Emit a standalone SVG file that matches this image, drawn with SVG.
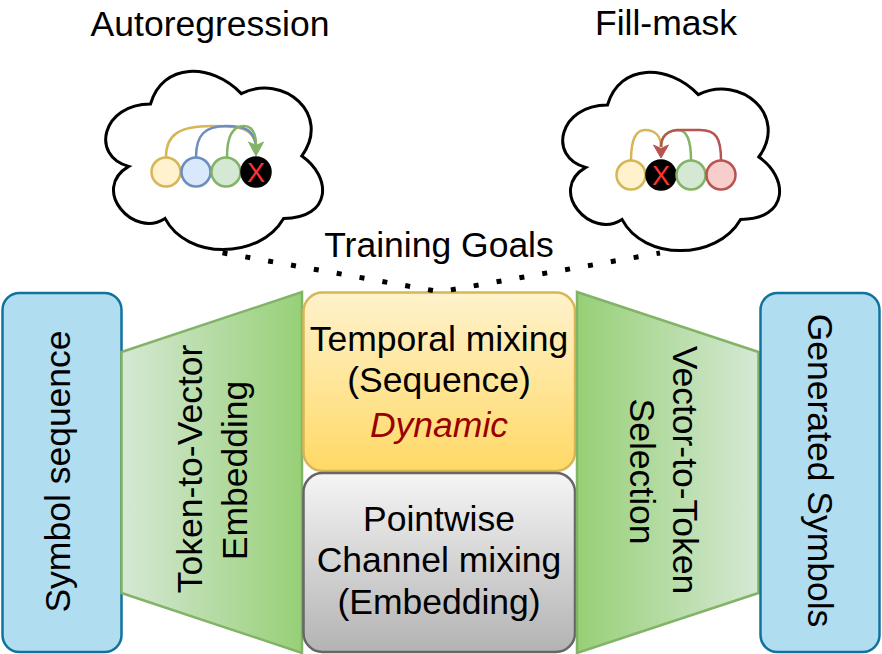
<svg xmlns="http://www.w3.org/2000/svg" width="882" height="654" viewBox="0 0 882 654">
<style>
text{font-family:"Liberation Sans",Arial,sans-serif;font-size:35.5px;fill:#000;text-anchor:middle}
.blue{fill:#b1ddf0;stroke:#10739e;stroke-width:2.5}
.trap{stroke:#82b366;stroke-width:2.5}
.cloud{fill:#fff;stroke:#000;stroke-width:3}
.arc{fill:none;stroke-width:2.5}
.c{stroke-width:2.5}
.x{font-size:27px;fill:#ff3333}
.dot{fill:none;stroke:#000;stroke-width:5;stroke-dasharray:5 18.2}
</style>
<defs>
<linearGradient id="gL" x1="0" y1="0" x2="1" y2="0"><stop offset="0" stop-color="#d5e8d4"/><stop offset="1" stop-color="#97d077"/></linearGradient>
<linearGradient id="gR" x1="0" y1="0" x2="1" y2="0"><stop offset="0" stop-color="#97d077"/><stop offset="1" stop-color="#d5e8d4"/></linearGradient>
<linearGradient id="gY" x1="0" y1="0" x2="0" y2="1"><stop offset="0" stop-color="#fff2cc"/><stop offset="1" stop-color="#ffd966"/></linearGradient>
<linearGradient id="gG" x1="0" y1="0" x2="0" y2="1"><stop offset="0" stop-color="#f5f5f5"/><stop offset="1" stop-color="#b3b3b3"/></linearGradient>
<path id="cloudShape" d="M60.5,52 C12.1,52 0,104 38.7,114.4 C0,137.3 43.6,187.2 75,166.4 C96.8,208 169.4,208 193.6,166.4 C242,166.4 242,124.8 211.8,104 C242,62.4 193.6,20.8 151.3,41.6 C121,10.4 72.6,10.4 60.5,52 Z"/>
</defs>

<g id="titles">
<text x="210" y="36">Autoregression</text>
<text x="666" y="35">Fill-mask</text>
</g>

<g id="symbol-sequence">
<rect class="blue" x="2.5" y="293" width="119" height="359" rx="17"/>
<text transform="translate(70,471.5) rotate(-90)">Symbol sequence</text>
</g>

<g id="token-to-vector">
<polygon class="trap" fill="url(#gL)" points="121.5,352 302,292 302,653 121.5,593"/>
<text transform="translate(201.7,469) rotate(-90)">Token-to-Vector</text>
<text transform="translate(246.7,470.5) rotate(-90)">Embedding</text>
</g>

<g id="temporal-mixing">
<rect x="303.5" y="292.5" width="271.5" height="178.5" rx="19" fill="url(#gY)" stroke="#d6b656" stroke-width="2.5"/>
<text x="439" y="351">Temporal mixing</text>
<text x="439" y="391.5">(Sequence)</text>
<text x="439" y="437" font-style="italic" style="fill:#990000">Dynamic</text>
</g>

<g id="channel-mixing">
<rect x="303.5" y="473" width="271.5" height="179" rx="19" fill="url(#gG)" stroke="#666666" stroke-width="2.5"/>
<text x="439" y="531">Pointwise</text>
<text x="439" y="572">Channel mixing</text>
<text x="439" y="614">(Embedding)</text>
</g>

<g id="vector-to-token">
<polygon class="trap" fill="url(#gR)" points="577,292 758.5,352 758.5,593 577,653"/>
<text transform="translate(673.3,470) rotate(90)">Vector-to-Token</text>
<text transform="translate(630,471.5) rotate(90)">Selection</text>
</g>

<g id="generated-symbols">
<rect class="blue" x="760.5" y="293" width="119" height="359" rx="17"/>
<text transform="translate(808,470.5) rotate(90)">Generated Symbols</text>
</g>

<g id="connectors">
<path class="dot" d="M222.5,252.8 L440,291.8 L660,253"/>
</g>

<g id="training-goals">
<text x="439" y="256.7">Training Goals</text>
</g>

<g id="autoregression-cloud">
<use href="#cloudShape" class="cloud" transform="translate(90,52)"/>
<path class="arc" stroke="#d6b656" d="M166,157 C166,134 180,126 212,126 C240,126 254,128 256,146"/>
<path class="arc" stroke="#6c8ebf" d="M196,157 C196,135 205,126 226,126 C244,126 254,129 256,146"/>
<path class="arc" stroke="#82b366" d="M227,157 C227,137 232,126 244,126 C252,126 256,133 256,146"/>
<polygon fill="#82b366" stroke="#82b366" stroke-width="1" points="248.5,142 256,145.5 263.5,142 256,156"/>
<circle class="c" cx="166" cy="172" r="14.5" fill="#fff2cc" stroke="#d6b656"/>
<circle class="c" cx="196" cy="172" r="14.5" fill="#dae8fc" stroke="#6c8ebf"/>
<circle class="c" cx="226" cy="172" r="14.5" fill="#d5e8d4" stroke="#82b366"/>
<circle class="c" cx="256" cy="172" r="14.5" fill="#000" stroke="#000"/>
<text class="x" x="256" y="182">X</text>
</g>

<g id="fillmask-cloud">
<use href="#cloudShape" class="cloud" transform="translate(547,53)"/>
<path class="arc" stroke="#d6b656" d="M631,160 C631,138 636,130 645,130 C655,130 661,136 661,147"/>
<path class="arc" stroke="#82b366" d="M691,160 C691,138 686,130 678,130 C668,130 661,136 661,147"/>
<path class="arc" stroke="#b85450" d="M721,160 C721,138 716,130 700,130 L680,130 C668,130 661,136 661,147"/>
<polygon fill="#b85450" stroke="#b85450" stroke-width="1" points="653.5,145 661,148.5 668.5,145 661,158"/>
<circle class="c" cx="631" cy="175" r="14.5" fill="#fff2cc" stroke="#d6b656"/>
<circle class="c" cx="661" cy="175" r="14.5" fill="#000" stroke="#000"/>
<circle class="c" cx="691" cy="175" r="14.5" fill="#d5e8d4" stroke="#82b366"/>
<circle class="c" cx="721" cy="175" r="14.5" fill="#f8cecc" stroke="#b85450"/>
<text class="x" x="661" y="185">X</text>
</g>
</svg>
